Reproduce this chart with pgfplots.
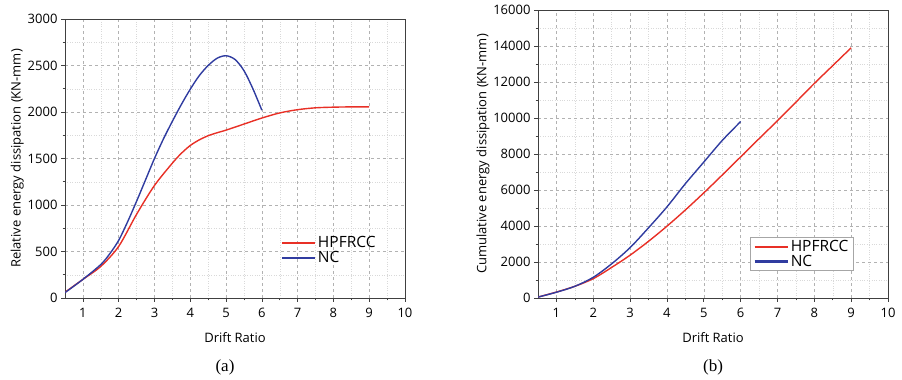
\documentclass[border=0pt]{standalone}
\usepackage{pgfplots}
\pgfplotsset{compat=1.18}
\usepackage{fontspec}
\setmainfont{Liberation Serif}
\newfontfamily\axfont{Open Sans}
\definecolor{myred}{RGB}{232,48,38}
\definecolor{myblue}{RGB}{48,60,160}
\pgfplotsset{
  myax/.style={
    scale only axis, anchor=south west,
    xmin=0.5, xmax=10, ymin=0,
    xtick={1,...,10},
    minor x tick num=1, minor y tick num=1,
    tick pos=left, tick align=outside,
    major tick length=4pt, minor tick length=2.5pt,
    axis line style={black!75, line width=0.9pt},
    every tick/.style={black!75, line width=0.6pt},
    grid=both,
    major grid style={gray!60, dashed, line width=0.4pt},
    minor grid style={gray!30, dotted, line width=0.4pt},
    font=\axfont\fontsize{13}{15}\selectfont,
    /pgf/number format/assume math mode=true,
    /pgf/number format/1000 sep={},
    scaled y ticks=false,
    xlabel={Drift Ratio},
    xlabel style={yshift=-8pt},
    xticklabel style={yshift=-3pt},
    legend style={font=\axfont\fontsize{15.5}{17}\selectfont, row sep=-2pt},
    legend cell align=left,
    legend image code/.code={\draw[#1, line width=2.3pt] (0pt,0pt) -- (33pt,0pt);},
  }
}
\begin{document}
\begin{tikzpicture}
\useasboundingbox (0pt,0pt) rectangle (902pt,380pt);
\begin{axis}[myax, at={(65pt,82pt)}, width=340pt, height=279pt,
  ymax=3000, ytick={0,500,...,3000},
  ylabel={Relative energy dissipation (KN-mm)},
  ylabel style={yshift=-3pt},
  legend style={draw=none, fill=none, at={(0.625,0.235)}, anchor=north west},
  ]
\addplot[myred, line width=1.4pt, smooth, no marks] coordinates {(0.5,62) (1,200) (1.5,340) (2,555) (2.5,900) (3,1210) (3.5,1450) (3.75,1555) (4,1640) (4.25,1700) (4.5,1745) (4.75,1777) (5,1805) (5.5,1870) (6,1935) (6.5,1990) (7,2025) (7.5,2045) (8,2052) (8.5,2055) (9,2055)};
\addlegendentry{HPFRCC}
\addplot[myblue, line width=1.4pt, smooth, no marks] coordinates {(0.5,58) (1,200) (1.5,360) (1.75,475) (2,620) (2.25,820) (2.5,1040) (2.75,1270) (3,1500) (3.25,1710) (3.5,1900) (3.75,2080) (4,2245) (4.25,2390) (4.5,2500) (4.75,2578) (5,2605) (5.25,2565) (5.5,2445) (5.75,2250) (6,2020)};
\addlegendentry{NC}
\end{axis}
\begin{axis}[myax, at={(538pt,82pt)}, width=350pt, height=288pt,
  ymax=16000, ytick={0,2000,...,16000},
  ylabel={Cumulative energy dissipation (KN-mm)},
  ylabel style={yshift=-3pt},
  legend style={draw=gray!70, fill=white, line width=0.8pt, at={(0.606,0.212)}, anchor=north west, inner xsep=3pt, inner ysep=1pt},
  ]
\addplot[myred, line width=1.4pt, smooth, no marks] coordinates {(0.5,50) (1,330) (1.5,650) (2,1075) (2.5,1700) (3,2380) (3.5,3150) (4,3990) (4.5,4890) (5,5840) (5.5,6830) (6,7840) (6.5,8850) (7,9850) (7.5,10880) (8,11920) (8.5,12910) (9,13900)};
\addlegendentry{HPFRCC}
\addplot[myblue, line width=1.4pt, smooth, no marks] coordinates {(0.5,50) (1,320) (1.5,650) (2,1150) (2.5,1900) (3,2800) (3.5,3900) (4,5060) (4.5,6350) (5,7550) (5.5,8750) (6,9800)};
\addlegendentry{NC}
\end{axis}
\node[font=\fontsize{17}{19}\selectfont] at (225pt,13pt) {(a)};
\node[font=\fontsize{17}{19}\selectfont] at (713pt,13pt) {(b)};
\end{tikzpicture}
\end{document}
